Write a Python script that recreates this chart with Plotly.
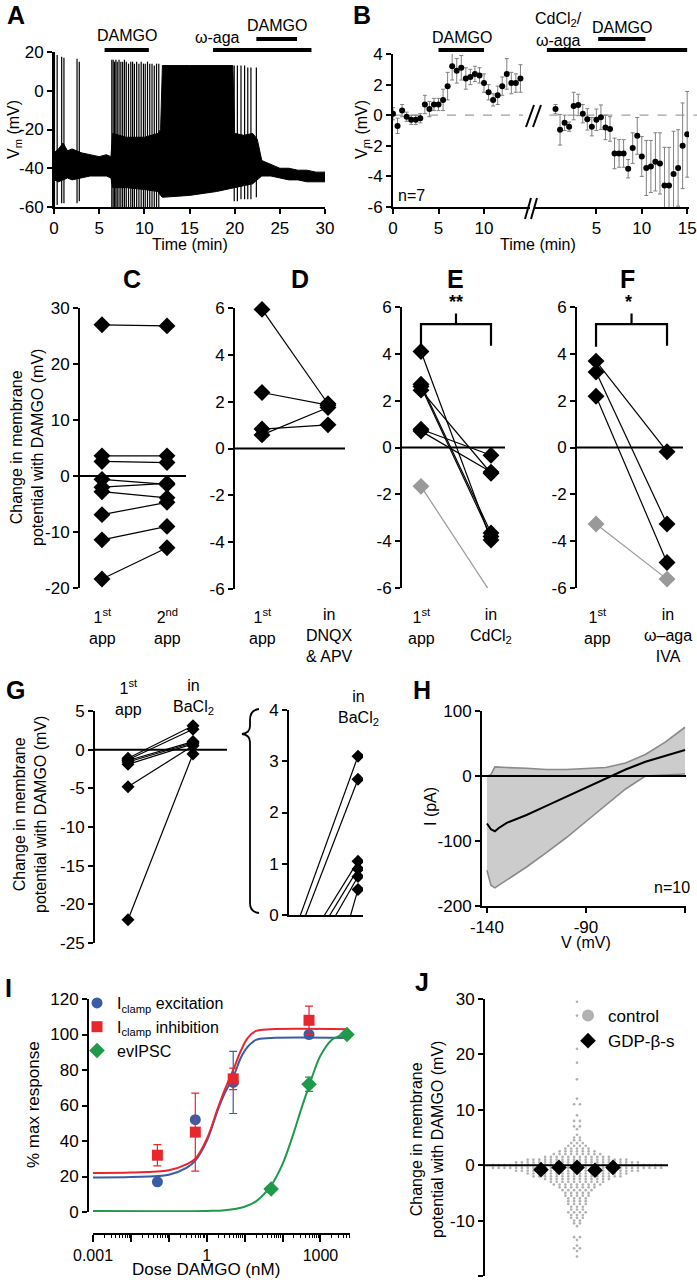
import plotly.graph_objects as go

W, H = 697, 1280
FONT = "Liberation Sans, Arial, sans-serif"

# ---------------- DATA ----------------
# Panel A: membrane potential trace (envelope of baseline noise + action potentials)
a_env_t = [0, 0.5, 1, 1.5, 2, 3, 4, 5, 5.8, 6.3, 6.5, 8, 10, 11.5, 11.8, 12, 15, 18, 19.8,
           20, 21, 22, 22.5, 23, 24, 25, 26, 27, 28, 29, 30]
a_env_hi = [-32, -30, -27, -31, -30, -32, -33, -34, -33, -34, -22, -24, -24, -22, -20, 13, 13, 13, 13,
            -22, -23, -22, -25, -36, -38, -40, -40, -41, -41, -42, -42]
a_env_lo = [-46, -47, -46, -45, -46, -45, -44, -44, -44, -45, -50, -50, -51, -52, -54, -55, -54, -52, -50,
            -50, -49, -48, -46, -44, -44, -45, -46, -46, -47, -47, -47]
a_spike_t = [0.05, 0.35, 0.85, 1.1, 2.55, 2.8,
             6.4, 6.55, 6.7, 6.85, 7.0, 7.2, 7.4, 7.6, 7.8, 8.0, 8.25, 8.5, 8.7, 8.9, 9.15, 9.4, 9.65,
             9.9, 10.1, 10.35, 10.6, 10.85, 11.1, 11.35, 11.6,
             19.95, 20.3, 20.7, 21.1, 21.45, 21.8, 22.4]
a_spike_peak = [20, 18.5, 17.5, 17, 16.5, 15,
                16, 16, 15, 16, 15, 16, 15, 15, 16, 15, 14, 15, 15, 14, 15, 14, 15,
                14, 14, 15, 14, 14, 13, 14, 14,
                13, 13, 13, 13, 12, 12, 12]
a_spike_trough = [-60, -59, -58, -58, -58, -57,
                  -60, -60, -60, -60, -60, -60, -60, -60, -60, -60, -60, -60, -60, -60, -60, -60, -60,
                  -60, -60, -60, -60, -60, -60, -60, -60,
                  -57, -57, -56, -56, -56, -56, -55]
a_bar_damgo1 = [5.6, 10.5]
a_bar_aga = [17.6, 28.5]
a_bar_damgo2 = [22.4, 26.9]

# Panel B: mean Vm (n=7), before and after break
b1_t = [0, 0.5, 1, 1.5, 2, 2.5, 3, 3.5, 4, 4.5, 5, 5.5, 6, 6.5, 7, 7.5, 8, 8.5, 9, 9.5,
        10, 10.5, 11, 11.5, 12, 12.5, 13, 13.5, 14]
b1_v = [0.1, -0.7, 0.3, -0.1, -0.3, -0.3, -0.2, 0.7, 0.4, 0.7, 0.7, 1.0, 1.9, 3.2, 2.9, 3.1, 2.4, 2.5,
        2.7, 2.6, 2.1, 1.5, 1.0, 1.3, 1.9, 2.7, 2.1, 2.1, 2.4]
b1_e = [0.4, 0.5, 0.4, 0.3, 0.3, 0.3, 0.3, 0.6, 0.5, 0.4, 0.4, 0.7, 0.9, 0.9, 0.8, 0.8, 0.7, 0.5,
        0.5, 0.5, 0.6, 0.5, 0.4, 0.6, 0.6, 1.0, 0.7, 0.6, 0.9]
b2_t = [0.5, 1, 1.5, 2, 2.5, 3, 3.5, 4, 4.5, 5, 5.5, 6, 6.5, 7, 7.5, 8, 8.5, 9, 9.5, 10,
        10.5, 11, 11.5, 12, 12.5, 13, 13.5, 14, 14.5, 15]
b2_v = [0.4, -0.95, -0.5, -0.75, 0.6, 0.67, 0.1, -0.27, -0.75, -0.3, -0.13, -0.8, -0.9, -2.5, -2.5,
        -2.5, -3.5, -2.15, -1.35, -2.7, -3.45, -3.35, -3.05, -3.15, -4.6, -4.6, -3.85, -3.45, -2.0, -1.25]
b2_e = [0.3, 1.0, 0.5, 0.3, 0.9, 0.7, 0.6, 0.7, 0.6, 0.7, 0.8, 0.8, 0.8, 1.0, 0.9, 0.9, 0.6, 1.0,
        1.2, 1.3, 1.8, 1.7, 1.9, 2.0, 2.5, 2.5, 2.8, 2.5, 2.8, 2.8]
b_bar_damgo1 = [5, 10]
b_bar_cd = [-0.45, 15]
b_bar_damgo2 = [5.2, 10.4]

# Panels C-F: paired responses (1st application, second condition)
c_first = [27.0, 3.6, 2.6, -0.6, -2.0, -2.8, -6.9, -11.4, -18.4]
c_second = [26.8, 3.6, 2.4, -1.5, -1.3, -3.9, -4.7, -9.0, -12.8]
d_first = [5.94, 2.39, 0.83, 0.58]
d_second = [1.91, 1.85, 1.01, 1.75]
e_first = [4.1, 2.7, 2.6, 2.45, 0.78, 0.7]
e_second = [-3.95, -3.65, -3.8, -1.1, -0.33, -1.05]
e_first_gray = [-1.66]
e_second_gray = [-6.22]
f_first = [3.69, 3.22, 2.19]
f_second = [-0.18, -3.27, -4.91]
f_first_gray = [-3.27]
f_second_gray = [-5.62]

# Panel G
g_first = [-1.1, -1.3, -1.4, -1.6, -1.9, -4.8, -22.0]
g_second = [3.1, 2.65, 1.05, 0.9, 0.75, 0.5, -0.55]

# Panel H: I-V relation (mean and band)
h_v = [-140, -138, -136, -134, -130, -120, -110, -100, -90, -80, -70, -60, -50, -40]
h_mean = [-73, -82, -85, -80, -72, -60, -46, -32, -18, -3, 10, 22, 31, 40]
h_upper = [0, 2, 14, 14, 13, 12, 10, 10, 11, 13, 20, 33, 52, 75]
h_lower = [-145, -168, -172, -168, -160, -140, -118, -95, -70, -45, -20, 0, 2, 3]

# Panel I: dose response
i_dose = [0.05, 0.5, 5, 500]
i_exc = [17, 52, 73, 100]
i_exc_err = [0, 0, 17.5, 0]
i_inh = [32, 45, 75, 108]
i_inh_err = [6, 22, 6, 8]
i_ev_dose = [5, 50, 500, 5000]
i_ev = [-1, 13, 72, 100]
i_ev_err = [0, 0, 4, 0]
# fitted curves
i_fit_dose = [0.001, 0.01, 0.1, 0.3, 0.5, 1, 2, 3, 5, 8, 12, 20, 50, 5000]
i_fit_exc = [19.5, 19.7, 21, 25, 29, 40, 58, 67, 76, 87, 93, 97, 98, 98]
i_fit_inh = [22, 22.2, 23.5, 27, 30, 41, 59, 69, 80, 91, 98, 102, 103, 103]
i_fit_ev_dose = [0.001, 1, 3, 10, 20, 50, 100, 200, 300, 500, 700, 1000, 2000, 3000, 5000]
i_fit_ev = [0.5, 0.6, 1, 3, 6, 15, 27, 45, 57, 71, 80, 88, 97, 99, 100]

# Panel J: control beeswarm (value level, number of cells) and GDP-beta-s cells
j_levels = [29.5, 27.0, 21.0, 18.5, 15.5, 12.0, 11.0, 9.0, 8.0, 7.0, 6.5, 5.5, 5.0, 4.5, 4.0, 3.5, 3.0,
            2.5, 2.0, 1.5, 1.0, 0.5, 0.0, -0.5, -1.0, -1.5, -2.0, -2.5, -3.0, -3.5, -4.0, -4.5,
            -5.0, -5.5, -6.0, -6.5, -7.0, -7.5, -8.0, -8.5, -9.0, -9.5, -10.0, -10.5, -11.0,
            -13.0, -13.5, -14.5, -15.0, -15.5, -16.5]
j_counts = [1, 1, 1, 1, 1, 1, 2, 1, 2, 2, 1, 1, 2, 2, 3, 4, 5,
            7, 9, 12, 18, 22, 30, 30, 22, 18, 16, 12, 10, 9, 7, 6,
            5, 5, 4, 4, 4, 3, 3, 4, 3, 3, 2, 2, 1,
            2, 1, 1, 2, 1, 1]
j_gdp = [-0.8, -0.4, -0.4, -0.9, -0.4]

# ---------------- helpers ----------------
def fx(px):
    return px / W


def fy(py):
    return 1 - py / H


def xd(a, b):
    return [fx(a), fx(b)]


def yd(top, bottom):
    return [fy(bottom), fy(top)]


def tt(vals):
    return [str(v) for v in vals]


def axstyle(**kw):
    d = dict(showline=True, linecolor='black', linewidth=2, ticks='outside', ticklen=5,
             tickwidth=2, tickcolor='black', showgrid=False, zeroline=False, automargin=False,
             tickfont=dict(family=FONT, size=17, color='black'))
    if 'tickvals' in kw and 'ticktext' not in kw:
        kw['ticktext'] = tt(kw['tickvals'])
    d.update(kw)
    return d


def hidden(**kw):
    d = dict(visible=False, showgrid=False, zeroline=False, automargin=False)
    d.update(kw)
    return d


def ann(text, x, y, size=16, bold=False, xanchor='center', yanchor='middle', angle=0, color='black'):
    return dict(text=(f"<b>{text}</b>" if bold else text), x=fx(x), y=fy(y), xref='paper', yref='paper',
                showarrow=False, xanchor=xanchor, yanchor=yanchor, textangle=angle,
                font=dict(size=size, family=FONT, color=color))


def pairs(first, second):
    xs, ys = [], []
    for a, b in zip(first, second):
        xs += [0, 1, None]
        ys += [a, b, None]
    return xs, ys


fig = go.Figure()
shapes = []
anns = []

# ---------------- Panel A ----------------
fig.add_trace(go.Scatter(x=a_env_t + a_env_t[::-1], y=a_env_hi + a_env_lo[::-1], fill='toself',
                         fillcolor='black', line=dict(color='black', width=1), mode='lines',
                         xaxis='x', yaxis='y', showlegend=False, hoverinfo='skip'))
sx, sy = [], []
for t, p, tr in zip(a_spike_t, a_spike_peak, a_spike_trough):
    sx += [t, t, None]
    sy += [tr, p, None]
fig.add_trace(go.Scatter(x=sx, y=sy, mode='lines', line=dict(color='black', width=1.2),
                         xaxis='x', yaxis='y', showlegend=False))
for (t0, t1), ypx in [(a_bar_damgo1, 50), (a_bar_aga, 50), (a_bar_damgo2, 39)]:
    shapes.append(dict(type='line', xref='x', yref='paper', x0=t0, x1=t1, y0=fy(ypx), y1=fy(ypx),
                       line=dict(color='black', width=4)))

# ---------------- Panel B ----------------
for xs, ys, es, xa, ya in [(b1_t, b1_v, b1_e, 'x2', 'y2'), (b2_t, b2_v, b2_e, 'x3', 'y3')]:
    fig.add_trace(go.Scatter(x=xs, y=ys, mode='markers', marker=dict(color='black', size=6),
                             error_y=dict(type='data', array=es, color='#808080', thickness=1, width=2),
                             xaxis=xa, yaxis=ya, showlegend=False))
shapes.append(dict(type='line', xref='x2 domain', yref='y2', x0=0, x1=0.95, y0=0, y1=0,
                   line=dict(color='#a0a0a0', width=1.2, dash='dash'), layer='below'))
shapes.append(dict(type='line', xref='x3 domain', yref='y3', x0=0.1, x1=1.06, y0=0, y1=0,
                   line=dict(color='#a0a0a0', width=1.2, dash='dash'), layer='below'))
for (t0, t1), ypx, xa in [(b_bar_damgo1, 50, 'x2'), (b_bar_cd, 50, 'x3'), (b_bar_damgo2, 39, 'x3')]:
    shapes.append(dict(type='line', xref=xa, yref='paper', x0=t0, x1=t1, y0=fy(ypx), y1=fy(ypx),
                       line=dict(color='black', width=4)))
# axis break marks
for (x0, y0, x1, y1) in [(526, 127, 534, 105), (533, 127, 541, 105), (525, 219, 531, 198), (531, 219, 537, 198)]:
    shapes.append(dict(type='line', xref='paper', yref='paper', x0=fx(x0), y0=fy(y0), x1=fx(x1), y1=fy(y1),
                       line=dict(color='black', width=2)))

# ---------------- Panels C-F ----------------
for first, second, ax in [(c_first, c_second, 4), (d_first, d_second, 5), (e_first, e_second, 6),
                          (f_first, f_second, 7)]:
    xs, ys = pairs(first, second)
    fig.add_trace(go.Scatter(x=xs, y=ys, mode='lines+markers', line=dict(color='black', width=1.2),
                             marker=dict(symbol='diamond', size=13, color='black'),
                             xaxis=f'x{ax}', yaxis=f'y{ax}', showlegend=False, cliponaxis=False))
for first, second, ax in [(e_first_gray, e_second_gray, 6), (f_first_gray, f_second_gray, 7)]:
    xs, ys = pairs(first, second)
    fig.add_trace(go.Scatter(x=xs, y=ys, mode='lines+markers', line=dict(color='#999999', width=1.2),
                             marker=dict(symbol='diamond', size=13, color='#999999'),
                             xaxis=f'x{ax}', yaxis=f'y{ax}', showlegend=False, cliponaxis=False))
for ax in [6, 7]:
    shapes.append(dict(type='path', xref=f'x{ax}', yref=f'y{ax}',
                       path='M 0,4.3 L 0,5.27 L 1,5.27 L 1,4.35 M 0.5,5.27 L 0.5,5.72',
                       line=dict(color='black', width=2.2)))

# ---------------- Panel G ----------------
xs, ys = pairs(g_first, g_second)
fig.add_trace(go.Scatter(x=xs, y=ys, mode='lines+markers', line=dict(color='black', width=1.2),
                         marker=dict(symbol='diamond', size=10, color='black'),
                         xaxis='x8', yaxis='y8', showlegend=False, cliponaxis=False))
fig.add_trace(go.Scatter(x=xs, y=ys, mode='lines', line=dict(color='black', width=1.2),
                         xaxis='x9', yaxis='y9', showlegend=False))
fig.add_trace(go.Scatter(x=[1] * len(g_second), y=g_second, mode='markers',
                         marker=dict(symbol='diamond', size=10, color='black'),
                         xaxis='x9', yaxis='y9', showlegend=False, cliponaxis=True))


def pxpath(cmds):
    out = []
    for c in cmds:
        if isinstance(c, str):
            out.append(c)
        else:
            out.append(f"{fx(c[0]):.5f},{fy(c[1]):.5f}")
    return ' '.join(out)


brace = pxpath(['M', (259, 709), 'Q', (250, 710), (250, 720), 'L', (250, 726), 'Q', (250, 733), (242, 734),
                'Q', (250, 735), (250, 742), 'L', (250, 903), 'Q', (250, 912), (259, 913)])
shapes.append(dict(type='path', xref='paper', yref='paper', path=brace, line=dict(color='black', width=1.8)))

# ---------------- Panel H ----------------
fig.add_trace(go.Scatter(x=h_v, y=h_lower, mode='lines', line=dict(color='#8a8a8a', width=1.6),
                         xaxis='x10', yaxis='y10', showlegend=False))
fig.add_trace(go.Scatter(x=h_v, y=h_upper, mode='lines', line=dict(color='#8a8a8a', width=1.6),
                         fill='tonexty', fillcolor='#cccccc', xaxis='x10', yaxis='y10', showlegend=False))
fig.add_trace(go.Scatter(x=h_v, y=h_mean, mode='lines', line=dict(color='black', width=2),
                         xaxis='x10', yaxis='y10', showlegend=False))

# ---------------- Panel I ----------------
BLUE, RED, GREEN = '#3a5ca6', '#e8262d', '#1f9a4b'
fig.add_trace(go.Scatter(x=i_fit_dose, y=i_fit_exc, mode='lines', line=dict(color=BLUE, width=2, shape='spline'),
                         xaxis='x11', yaxis='y11', showlegend=False))
fig.add_trace(go.Scatter(x=i_fit_dose, y=i_fit_inh, mode='lines', line=dict(color=RED, width=2, shape='spline'),
                         xaxis='x11', yaxis='y11', showlegend=False))
fig.add_trace(go.Scatter(x=i_fit_ev_dose, y=i_fit_ev, mode='lines', line=dict(color=GREEN, width=2, shape='spline'),
                         xaxis='x11', yaxis='y11', showlegend=False))
fig.add_trace(go.Scatter(x=i_dose, y=i_exc, mode='markers', name='I<sub>clamp</sub> excitation',
                         marker=dict(symbol='circle', size=11, color=BLUE),
                         error_y=dict(type='data', array=i_exc_err, color=BLUE, thickness=1.2, width=4),
                         xaxis='x11', yaxis='y11', legend='legend', cliponaxis=False))
fig.add_trace(go.Scatter(x=i_dose, y=i_inh, mode='markers', name='I<sub>clamp</sub> inhibition',
                         marker=dict(symbol='square', size=11, color=RED),
                         error_y=dict(type='data', array=i_inh_err, color=RED, thickness=1.2, width=4),
                         xaxis='x11', yaxis='y11', legend='legend', cliponaxis=False))
fig.add_trace(go.Scatter(x=i_ev_dose, y=i_ev, mode='markers', name='evIPSC',
                         marker=dict(symbol='diamond', size=12, color=GREEN),
                         error_y=dict(type='data', array=i_ev_err, color=GREEN, thickness=1.2, width=4),
                         xaxis='x11', yaxis='y11', legend='legend', cliponaxis=False))

# ---------------- Panel J ----------------
SP = 5.8
jx, jy = [], []
for v, n in zip(j_levels, j_counts):
    for i in range(n):
        jx.append((i - (n - 1) / 2) * SP)
        jy.append(v)
fig.add_trace(go.Scatter(x=jx, y=jy, mode='markers', name='control',
                         marker=dict(symbol='circle', size=2.7, color='#b2b2b2'),
                         xaxis='x12', yaxis='y12', legend='legend2'))
gx = [(i - (len(j_gdp) - 1) / 2) * 18 for i in range(len(j_gdp))]
fig.add_trace(go.Scatter(x=gx, y=j_gdp, mode='markers', name='GDP-β-s',
                         marker=dict(symbol='diamond', size=12, color='black'),
                         xaxis='x12', yaxis='y12', legend='legend2'))

# zero lines
for ax in [4, 5, 6, 7, 8, 10, 12]:
    shapes.append(dict(type='line', xref=f'x{ax} domain', yref=f'y{ax}', x0=0, x1=1, y0=0, y1=0,
                       line=dict(color='black', width=2)))

# ---------------- annotations ----------------
anns += [
    ann('A', 16, 15, 25, True), ann('B', 362, 15, 25, True),
    ann('C', 132, 279, 25, True), ann('D', 300, 279, 25, True),
    ann('E', 456, 279, 25, True), ann('F', 627, 279, 25, True),
    ann('G', 15, 690, 25, True), ann('H', 422, 690, 25, True),
    ann('I', 8, 988, 25, True), ann('J', 422, 982, 25, True),
    # A
    ann('DAMGO', 127, 36), ann('ω-aga', 217, 38), ann('DAMGO', 277, 26),
    ann('V<sub>m</sub> (mV)', 14, 130, 16, angle=-90),
    ann('Time (min)', 190, 244),
    # B
    ann('DAMGO', 462, 38), ann('CdCl<sub>2</sub>/', 558, 19), ann('ω-aga', 558, 40), ann('DAMGO', 622, 27),
    ann('V<sub>m</sub> (mV)', 362, 130, 16, angle=-90),
    ann('Time (min)', 538, 244), ann('n=7', 396, 195, 16, xanchor='left'),
    # C-F
    ann('Change in membrane<br>potential with DAMGO (mV)', 27, 448, 16, angle=-90),
    ann('1<sup>st</sup><br>app', 102, 626), ann('2<sup>nd</sup><br>app', 167, 626),
    ann('1<sup>st</sup><br>app', 262, 626), ann('in<br>DNQX<br>& APV', 329, 635),
    ann('1<sup>st</sup><br>app', 421, 626), ann('in<br>CdCl<sub>2</sub>', 491, 626),
    ann('1<sup>st</sup><br>app', 597, 626), ann('in<br>ω–aga<br>IVA', 668, 635),
    ann('**', 456, 302, 18, True), ann('*', 628, 302, 18, True),
    # G
    ann('Change in membrane<br>potential with DAMGO (mV)', 30, 815, 16, angle=-90),
    ann('1<sup>st</sup><br>app', 128, 697), ann('in<br>BaCl<sub>2</sub>', 193, 697),
    ann('in<br>BaCl<sub>2</sub>', 358, 708),
    # H
    ann('I (pA)', 430, 807, 16, angle=-90), ann('V (mV)', 586, 942), ann('n=10', 672, 887),
    # I
    ann('% max response', 33, 1105, 17, angle=-90), ann('Dose DAMGO (nM)', 206, 1269, 17),
    # J
    ann('Change in membrane<br>potential with DAMGO (mV)', 427, 1140, 16, angle=-90),
]

layout = dict(
    width=W, height=H, margin=dict(l=0, r=0, t=0, b=0, pad=0, autoexpand=False),
    paper_bgcolor='white', plot_bgcolor='white',
    font=dict(family=FONT, size=16, color='black'), showlegend=True,
    shapes=shapes, annotations=anns,
    # A
    xaxis=axstyle(domain=xd(54, 325), range=[0, 30], tickvals=[0, 5, 10, 15, 20, 25, 30], anchor='y'),
    yaxis=axstyle(domain=yd(52, 207), range=[-60, 20], tickvals=[-60, -40, -20, 0, 20], anchor='x'),
    # B
    xaxis2=axstyle(domain=xd(393, 530), range=[0, 15.05], tickvals=[0, 5, 10], anchor='y2'),
    yaxis2=axstyle(domain=yd(54, 207), range=[-6, 4], tickvals=[-6, -4, -2, 0, 2, 4], anchor='x2'),
    xaxis3=axstyle(domain=xd(534, 689), range=[-1.87, 15.2], tickvals=[5, 10, 15], anchor='y3'),
    yaxis3=hidden(domain=yd(54, 207), range=[-6, 4], anchor='x3'),
    # C
    xaxis4=hidden(domain=xd(80, 186), range=[-0.338, 1.292], anchor='y4'),
    yaxis4=axstyle(domain=yd(308, 588), range=[-20, 30], tickvals=[-20, -10, 0, 10, 20, 30], anchor='x4'),
    # D
    xaxis5=hidden(domain=xd(235, 345), range=[-0.409, 1.258], anchor='y5'),
    yaxis5=axstyle(domain=yd(308, 589), range=[-6, 6], tickvals=[-6, -4, -2, 0, 2, 4, 6], anchor='x5'),
    # E
    xaxis6=hidden(domain=xd(402, 505), range=[-0.271, 1.2], anchor='y6'),
    yaxis6=axstyle(domain=yd(307, 588), range=[-6, 6], tickvals=[-6, -4, -2, 0, 2, 4, 6], anchor='x6'),
    # F
    xaxis7=hidden(domain=xd(577, 683), range=[-0.268, 1.225], anchor='y7'),
    yaxis7=axstyle(domain=yd(307, 588), range=[-6, 6], tickvals=[-6, -4, -2, 0, 2, 4, 6], anchor='x7'),
    # G
    xaxis8=hidden(domain=xd(95, 227), range=[-0.508, 1.523], anchor='y8'),
    yaxis8=axstyle(domain=yd(711, 943), range=[-25, 5], tickvals=[-25, -20, -15, -10, -5, 0, 5], anchor='x8'),
    xaxis9=axstyle(domain=xd(289, 363), range=[0.115, 1.064], ticks='', showticklabels=False, anchor='y9'),
    yaxis9=axstyle(domain=yd(710, 915), range=[0, 4], tickvals=[0, 1, 2, 3, 4], anchor='x9'),
    # H
    xaxis10=axstyle(domain=xd(482, 686), range=[-142.5, -39.5], tickvals=[-140, -90, -40], anchor='y10'),
    yaxis10=axstyle(domain=yd(711, 906), range=[-200, 100], tickvals=[-200, -100, 0, 100], anchor='x10'),
    # I
    xaxis11=axstyle(domain=xd(93, 350), type='log', range=[-3, 3.78], anchor='free', position=fy(1234),
                    tickvals=[0.001, 0.01, 0.1, 1, 10, 100, 1000],
                    ticktext=['0.001', '', '', '1', '', '', '1000'], ticklen=7,
                    tickfont=dict(family=FONT, size=16, color='black'),
                    minor=dict(ticks='outside', ticklen=3, tickwidth=1, tickcolor='black',
                               tickvals=[m * 10 ** e for e in range(-3, 4) for m in range(2, 10)])),
    yaxis11=axstyle(domain=yd(999, 1212), range=[0, 120], tickvals=[0, 20, 40, 60, 80, 100, 120],
                    anchor='free', position=fx(88)),
    # J
    xaxis12=hidden(domain=xd(485, 668), range=[-92, 91], anchor='y12'),
    yaxis12=axstyle(domain=yd(999, 1276), range=[-20, 30], tickvals=[-20, -10, 0, 10, 20, 30], anchor='x12'),
    legend=dict(x=fx(77), y=fy(986), xanchor='left', yanchor='top', bgcolor='rgba(0,0,0,0)',
                font=dict(family=FONT, size=16, color='black'), itemwidth=30, tracegroupgap=0,
                traceorder='normal'),
    legend2=dict(x=fx(568), y=fy(998), xanchor='left', yanchor='top', bgcolor='rgba(0,0,0,0)',
                 font=dict(family=FONT, size=17, color='black'), itemwidth=30, itemsizing='constant',
                 traceorder='normal'),
)
fig.update_layout(**layout)
fig.write_html("out.html", config={'displayModeBar': False},
               post_script="document.body.style.margin='0';document.body.style.padding='0';")
